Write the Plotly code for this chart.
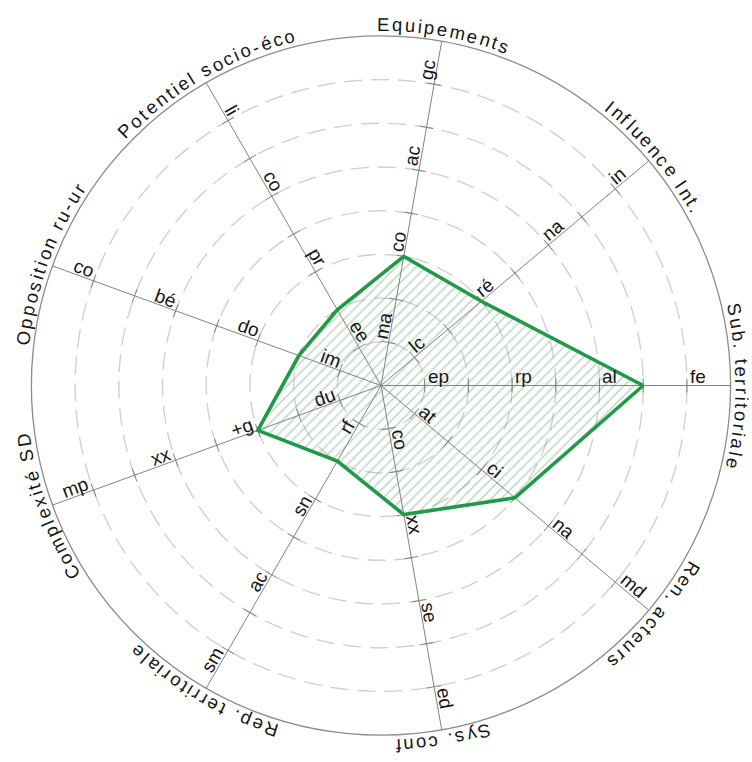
import math
import plotly.graph_objects as go

# ---- data -------------------------------------------------------------
axis_titles = [
    "Sub. territoriale", "Influence Int.", "Equipements", "Potentiel socio-éco",
    "Opposition ru-ur", "Complexité SD", "Rep. territoriale", "Sys. conf",
    "Ren. acteurs",
]
scores = [6, 3, 3, 2, 2, 3, 2, 3, 4]
tick_labels = [
    ["ep", "rp", "al", "fe"],
    ["lc", "ré", "na", "in"],
    ["ma", "co", "ac", "gc"],
    ["ee", "pr", "co", "li"],
    ["im", "do", "bé", "co"],
    ["du", "+g", "xx", "mp"],
    ["rf", "sn", "ac", "sm"],
    ["co", "xx", "se", "ed"],
    ["at", "ci", "na", "md"],
]
labelled_levels = [1, 3, 5, 7]
n_levels = 8

# ---- geometry / style -------------------------------------------------
W, H = 752, 762
CX, CY = 381, 385.5          # pixel position of the chart centre
PX = 43.7                    # pixels per scale level
FONT = "Liberation Sans, Arial, sans-serif"
LABEL_FS = 19
TITLE_FS = 18.5
ASC, DESC = 0.905, 0.212     # font ascent / descent (em)

CHAR_W = {
    "a": .556, "b": .556, "c": .5, "d": .556, "e": .556, "f": .278, "g": .556,
    "h": .556, "i": .222, "j": .222, "k": .5, "l": .222, "m": .833, "n": .556,
    "o": .556, "p": .556, "q": .556, "r": .333, "s": .5, "t": .278, "u": .556,
    "v": .5, "w": .722, "x": .5, "y": .5, "z": .5, "é": .556, "+": .584,
    ".": .278, " ": .278, "-": .333, "S": .667, "E": .667, "I": .278, "P": .667,
    "O": .778, "C": .722, "D": .722, "R": .722,
}


def text_width(s, fs):
    return sum(CHAR_W.get(ch, .556) for ch in s) * fs


n_axes = len(axis_titles)
angles = [360.0 / n_axes * i for i in range(n_axes)]


def polar_xy(r, deg):
    a = math.radians(deg)
    return r * math.cos(a), r * math.sin(a)


fig = go.Figure()

# grid circles
for k in range(1, n_levels + 1):
    outer = k == n_levels
    fig.add_shape(
        type="circle", xref="x", yref="y", x0=-k, y0=-k, x1=k, y1=k,
        line=dict(color="#8c8c8c" if outer else "#d0d0d0",
                  width=1.3 if outer else 1.4,
                  dash="solid" if outer else "18px,9px"),
        layer="below",
    )

# hatched area of the profile
px_, py_ = [], []
for v, a in zip(scores + scores[:1], angles + angles[:1]):
    x, y = polar_xy(v, a)
    px_.append(x)
    py_.append(y)

fig.add_trace(go.Scatter(
    x=px_, y=py_, mode="lines", fill="toself", line=dict(width=0),
    fillcolor="rgba(255,255,255,0)",
    fillpattern=dict(shape="/", fgcolor="#79ad86", bgcolor="rgba(255,255,255,0)",
                     size=7, solidity=0.22),
    hoverinfo="skip", showlegend=False,
))

# spokes and graduation ticks
sx, sy = [], []
half_tick = 7 / PX
for a in angles:
    x1, y1 = polar_xy(n_levels, a)
    sx += [0, x1, None]
    sy += [0, y1, None]
    nx, ny = polar_xy(1, a + 90)
    for k in range(1, n_levels):
        bx, by = polar_xy(k, a)
        sx += [bx - nx * half_tick, bx + nx * half_tick, None]
        sy += [by - ny * half_tick, by + ny * half_tick, None]

fig.add_trace(go.Scatter(
    x=sx, y=sy, mode="lines", line=dict(color="#828282", width=1),
    hoverinfo="skip", showlegend=False,
))

# profile outline
fig.add_trace(go.Scatter(
    x=px_, y=py_, mode="lines", line=dict(color="#1f9a48", width=3.6),
    hoverinfo="skip", showlegend=False,
))

annotations = []

# level labels along each spoke
for a, labels in zip(angles, tick_labels):
    t = (a + 180) % 360 - 180
    phi = t if -90 < t <= 90 else t - 180
    ux, uy = polar_xy(1, a)
    nx, ny = polar_xy(1, phi + 90)
    for k, lab in zip(labelled_levels, labels):
        w = text_width(lab, LABEL_FS)
        along = (k * PX + 3 + w / 2) / PX
        side = (2 + (ASC - DESC) / 2 * LABEL_FS) / PX
        annotations.append(dict(
            x=ux * along + nx * side, y=uy * along + ny * side,
            xref="x", yref="y", text=lab, showarrow=False,
            textangle=-phi, xanchor="center", yanchor="middle",
            font=dict(family=FONT, size=LABEL_FS, color="#161616"),
        ))

# axis titles written along the outer circle, reading clockwise
r_base = n_levels * PX + 5
r_char = (r_base + (ASC - DESC) / 2 * TITLE_FS) / PX
spacing = 2.4
for a, title in zip(angles, axis_titles):
    widths = [CHAR_W.get(ch, .556) * TITLE_FS for ch in title]
    total = sum(widths) + spacing * (len(title) - 1)
    start = a + math.degrees(total / 2 / r_base)
    s = 0.0
    for ch, w in zip(title, widths):
        alpha = start - math.degrees((s + w / 2) / r_base)
        s += w + spacing
        if ch == " ":
            continue
        x, y = polar_xy(r_char, alpha)
        ang = (90 - alpha + 180) % 360 - 180
        annotations.append(dict(
            x=x, y=y, xref="x", yref="y", text=ch, showarrow=False,
            textangle=ang, xanchor="center", yanchor="middle",
            font=dict(family=FONT, size=TITLE_FS, color="#161616"),
        ))

fig.update_layout(
    width=W, height=H,
    margin=dict(l=0, r=0, t=0, b=0),
    paper_bgcolor="white", plot_bgcolor="white",
    xaxis=dict(range=[-CX / PX, (W - CX) / PX], visible=False, fixedrange=True),
    yaxis=dict(range=[-(H - CY) / PX, CY / PX], visible=False, fixedrange=True),
    annotations=annotations,
    showlegend=False,
)

fig.write_html("out.html")
